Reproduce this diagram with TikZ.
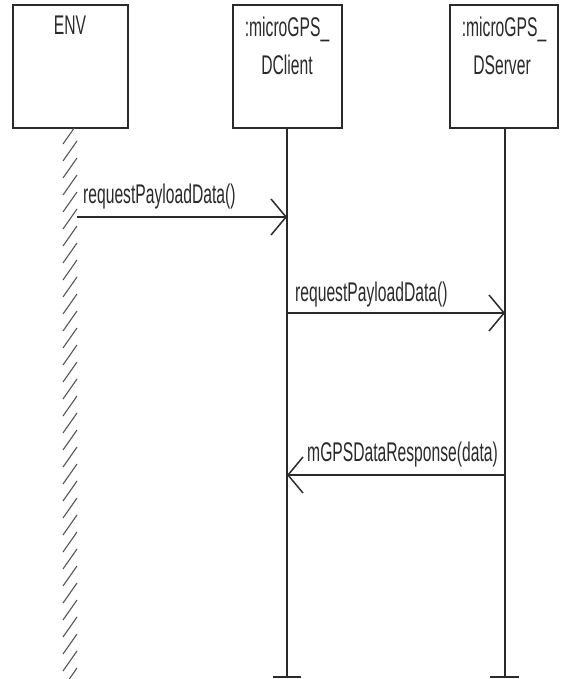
\documentclass[tikz,border=0pt]{standalone}
\usepackage{fontspec}
\setmainfont{Liberation Sans}
\newfontfamily\narrowfont[FakeStretch=0.58]{Liberation Sans}
\usetikzlibrary{arrows.meta}
\definecolor{ink}{HTML}{2A2A2A}
\definecolor{hatchgray}{HTML}{555555}
\tikzset{
  objbox/.style={draw=ink, line width=1.8pt, minimum height=123pt, inner sep=0pt},
  ttl/.style={font={\narrowfont\fontsize{27}{30}\selectfont}, text=ink, inner sep=0pt, anchor=base},
  msglbl/.style={font={\narrowfont\fontsize{27}{30}\selectfont}, text=ink, inner sep=0pt, anchor=base west},
  life/.style={draw=ink, line width=1.5pt},
  msg/.style={draw=ink, line width=1.8pt, -{Straight Barb[length=15pt,width=36pt,line width=1.5pt]}},
  hatchln/.style={draw=hatchgray, line width=1.1pt},
}
\begin{document}
\begin{tikzpicture}[x=1pt,y=-1pt]
\useasboundingbox (0,0) rectangle (561,679);
% object boxes
\node[objbox, minimum width=115pt] (env) at (70.5,66.5) {};
\node[objbox, minimum width=109pt] (cli) at (287.5,66.5) {};
\node[objbox, minimum width=108pt] (srv) at (504,66.5) {};
% titles
\node[ttl] (envt) at (70,35) {ENV};
\node[ttl] (clit1) at (287,37) {:microGPS\_};
\node[ttl] (clit2) at (287,75) {DClient};
\node[ttl] (srvt1) at (504,37) {:microGPS\_};
\node[ttl] (srvt2) at (502,75) {DServer};
% lifelines
\coordinate (cliend) at (287,677);
\coordinate (srvend) at (505,677);
\draw[life] (cli.south -| cliend) -- (cliend);
\draw[life] (srv.south -| srvend) -- (srvend);
\draw[life] ([xshift=-14pt]cliend) -- ([xshift=14pt]cliend);
\draw[life] ([xshift=-15pt]srvend) -- ([xshift=14pt]srvend);
% ENV hatched lifeline
\begin{scope}
\clip (55,129) rectangle (85,679);
\foreach \y in {124,141,...,690} {
  \draw[hatchln] (63,\y+20) -- (77,\y);
}
\end{scope}
% messages
\coordinate (m1s) at (77,217);
\coordinate (m1e) at (287,217);
\coordinate (m2s) at (287,313);
\coordinate (m2e) at (505,313);
\coordinate (m3s) at (505,475);
\coordinate (m3e) at (287,475);
\draw[msg] (m1s) -- (m1e);
\draw[msg] (m2s) -- (m2e);
\draw[msg] (m3s) -- (m3e);
\node[msglbl] (l1) at (83,203) {requestPayloadData()};
\node[msglbl] (l2) at (295,301) {requestPayloadData()};
\node[msglbl] (l3) at (307,461) {mGPSDataResponse(data)};
\end{tikzpicture}
\end{document}
